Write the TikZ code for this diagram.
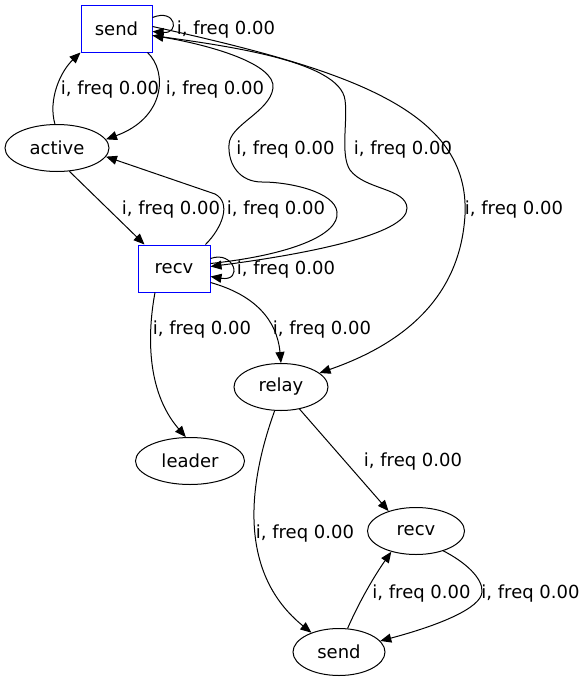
\documentclass[tikz,border=0pt]{standalone}
\usepackage{fontspec}
\setmainfont{DejaVu Sans}
\usetikzlibrary{arrows.meta, shapes.geometric}

\begin{document}
\begin{tikzpicture}[
  x=1pt, y=-1pt,
  boxnode/.style = {rectangle, draw=blue, line width=1pt, minimum width=71pt, minimum height=47pt,
                    inner sep=0pt, font=\fontsize{18}{20}\selectfont},
  ellnode/.style = {ellipse, draw=black, line width=1pt, minimum height=47pt,
                    inner sep=0pt, font=\fontsize{18}{20}\selectfont},
  lbl/.style     = {inner sep=0pt, yshift=-2pt, font=\fontsize{18}{20}\selectfont},
  arr/.style     = {-{Triangle[length=11pt, width=9pt]}, line width=1pt}
]
\useasboundingbox (0,0) rectangle (588,683);

%% ── States of the first round ────────────────────────────────────────────────
\node[boxnode] (send)   at (116.5, 28.5) {send};
\node[ellnode, minimum width=104pt] (active) at (57,148)   {active};
\node[boxnode, minimum width=72pt]  (recv)   at (174,268.5) {recv};

%% ── Later states ─────────────────────────────────────────────────────────────
\node[ellnode, minimum width=94pt]  (relay)  at (281,387)  {relay};
\node[ellnode, minimum width=109pt] (leader) at (190,461)  {leader};
\node[ellnode, minimum width=97pt]  (recvB)  at (416,531)  {recv};
\node[ellnode, minimum width=92pt]  (sendB)  at (339,652)  {send};

%% ── send / active / recv ─────────────────────────────────────────────────────
\draw[arr] ([yshift=11pt]send.east) .. controls (176,8) and (180,34) .. ([yshift=-3pt]send.east);
\draw[arr] ([xshift=-5pt]send.south east) .. controls (168,72) and (165,118) .. (active.10);
\draw[arr] (active.95) .. controls (48,100) and (60,72) .. (send.south west);
\draw[arr] (active.-62) -- ([xshift=7pt]recv.north west);
\draw[arr] ([xshift=-5pt]recv.north east) .. controls (222,228) and (232,203) .. (215,194) -- (active.-10);

%% ── Long loops between recv and send ────────────────────────────────────────
\draw[arr] ([yshift=5pt]recv.east) .. controls (290,255) and (340,235) .. (337,212)
      .. controls (335,192) and (290,182) .. (262,182)
      .. controls (240,182) and (228,165) .. (229,145)
      .. controls (229,125) and (270,112) .. (273,88)
      .. controls (276,64) and (210,45) .. ([yshift=-7pt]send.east);
\draw[arr] ([yshift=-7pt]send.east) .. controls (220,45) and (340,60) .. (345,100)
      .. controls (348,120) and (340,155) .. (350,170)
      .. controls (365,190) and (406,188) .. (407,208)
      .. controls (408,235) and (300,255) .. ([yshift=2pt]recv.east);
\draw[arr] ([yshift=2pt]send.east) .. controls (350,70) and (470,110) .. (465,215)
      .. controls (460,300) and (400,345) .. (relay.20);
\draw[arr] ([yshift=10pt]recv.east) .. controls (234,250) and (244,282) .. ([yshift=-8pt]recv.east);

%% ── recv to leader and relay ─────────────────────────────────────────────────
\draw[arr] ([xshift=-19pt]recv.south) .. controls (148,330) and (145,390) .. (leader.100);
\draw[arr] ([yshift=-14pt]recv.east) .. controls (255,295) and (277,320) .. (relay.north);

%% ── Second round ─────────────────────────────────────────────────────────────
\draw[arr] (relay.-50) -- (recvB.144);
\draw[arr] (relay.-105) .. controls (246,490) and (240,575) .. (sendB.145);
\draw[arr] (sendB.70) .. controls (360,600) and (375,575) .. (recvB.-140);
\draw[arr] (recvB.-36) .. controls (465,562) and (483,578) .. (482,592)
      .. controls (481,608) and (440,625) .. (sendB.15);

%% ── Labels ───────────────────────────────────────────────────────────────────
\node[lbl] (l1)  at (226,28)  {i, freq 0.00};
\node[lbl] (l2)  at (110,88)  {i, freq 0.00};
\node[lbl] (l3)  at (215,88)  {i, freq 0.00};
\node[lbl] (l4)  at (171,208) {i, freq 0.00};
\node[lbl] (l5)  at (276,208) {i, freq 0.00};
\node[lbl] (l6)  at (285.5,148) {i, freq 0.00};
\node[lbl] (l7)  at (403,148) {i, freq 0.00};
\node[lbl] (l8)  at (514,208) {i, freq 0.00};
\node[lbl] (l9)  at (286,268) {i, freq 0.00};
\node[lbl] (l10) at (202,328) {i, freq 0.00};
\node[lbl] (l11) at (322,328) {i, freq 0.00};
\node[lbl] (l12) at (413,460) {i, freq 0.00};
\node[lbl] (l13) at (305,532) {i, freq 0.00};
\node[lbl] (l14) at (421.5,592) {i, freq 0.00};
\node[lbl] (l15) at (530.5,592) {i, freq 0.00};

\end{tikzpicture}
\end{document}
